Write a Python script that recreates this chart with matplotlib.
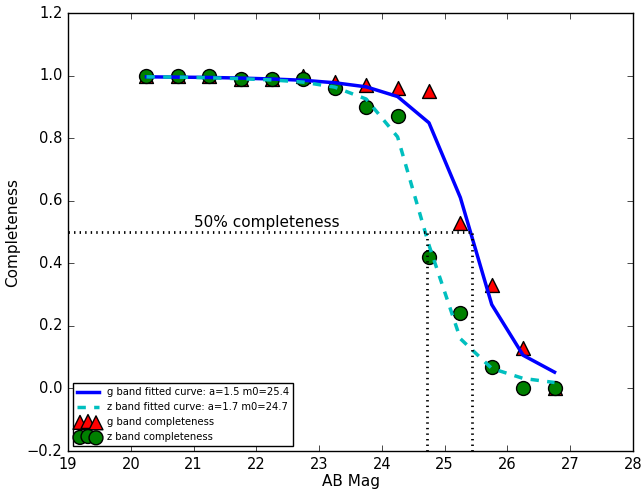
import matplotlib
matplotlib.use("Agg")
import matplotlib.pyplot as plt

plt.style.use('classic')

mags = [20.25, 20.75, 21.25, 21.75, 22.25, 22.75, 23.25, 23.75, 24.25, 24.75, 25.25, 25.75, 26.25, 26.75]
g_fit = [0.996, 0.995, 0.994, 0.992, 0.989, 0.985, 0.977, 0.964, 0.933, 0.849, 0.610, 0.268, 0.106, 0.052]
z_fit = [0.996, 0.995, 0.993, 0.990, 0.986, 0.979, 0.963, 0.925, 0.804, 0.458, 0.159, 0.064, 0.032, 0.019]
g_comp = [1.0, 1.0, 1.0, 0.99, 0.99, 1.0, 0.98, 0.97, 0.96, 0.95, 0.53, 0.33, 0.13, 0.0]
z_comp = [1.0, 1.0, 1.0, 0.99, 0.99, 0.99, 0.96, 0.90, 0.87, 0.42, 0.24, 0.07, 0.0, 0.0]
m50_z = 24.72
m50_g = 25.43
half = 0.5

fig = plt.figure(figsize=(6.44, 4.91), dpi=100)
ax = fig.add_axes([68/644, 1 - 451/491, (633 - 68)/644, (451 - 13)/491])

ax.plot(mags, g_fit, color='b', lw=2.5, label='g band fitted curve: a=1.5 m0=25.4')
ax.plot(mags, z_fit, color='c', lw=2.5, ls='--', label='z band fitted curve: a=1.7 m0=24.7')
ax.scatter(mags, g_comp, marker='^', s=100, c='r', edgecolors='k', label='g band completeness', zorder=1)
ax.scatter(mags, z_comp, marker='o', s=100, c='g', edgecolors='k', label='z band completeness', zorder=1)

ax.plot([19, m50_g], [half, half], 'k:', lw=2)
ax.plot([m50_z, m50_z], [-0.2, half], 'k:', lw=2)
ax.plot([m50_g, m50_g], [-0.2, half], 'k:', lw=2)
ax.text(21.0, 0.515, '50% completeness', fontsize=11)

ax.set_xlim(19, 28)
ax.set_ylim(-0.2, 1.2)
ax.set_xlabel('AB Mag', fontsize=11, labelpad=2)
ax.set_ylabel('Completeness', fontsize=11, labelpad=5)
ax.tick_params(labelsize=10.5)
ax.legend(loc='lower left', fontsize=7.2, scatterpoints=3, numpoints=1,
          labelspacing=0.5, handlelength=2.2, borderaxespad=0.5, markerscale=1.0,
          handletextpad=0.8)

fig.savefig('out.png', dpi=100)
